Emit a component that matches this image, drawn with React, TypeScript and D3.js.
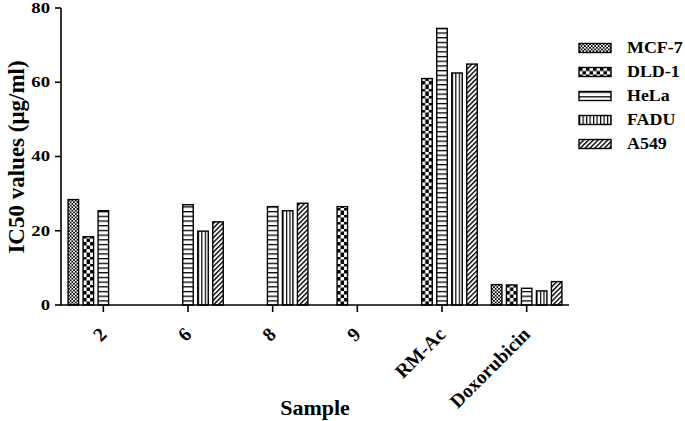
import React from "react";
import * as d3 from "d3";

const categories = ["2", "6", "8", "9", "RM-Ac", "Doxorubicin"];
const seriesNames = ["MCF-7", "DLD-1", "HeLa", "FADU", "A549"];
const mcf7 = [28.4, null, null, null, null, 5.5];
const dld1 = [18.4, null, null, 26.5, 61.0, 5.4];
const hela = [25.4, 27.0, 26.5, null, 74.5, 4.5];
const fadu = [null, 19.9, 25.4, null, 62.5, 3.8];
const a549 = [null, 22.4, 27.4, null, 64.9, 6.3];
const yTicks = [0, 20, 40, 60, 80];
const yTitle = "IC50 values (μg/ml)";
const xTitle = "Sample";

const seriesValues: (number | null)[][] = [mcf7, dld1, hela, fadu, a549];
const kinds = ["fine", "checker", "hlines", "vlines", "diag"];

const FONT = "'Liberation Serif', 'Times New Roman', serif";

function PatternDef({ id, kind, x, y }: { id: string; kind: string; x: number; y: number }) {
  if (kind === "fine") {
    return (
      <pattern id={id} patternUnits="userSpaceOnUse" x={x} y={y} width={3.4} height={3.4}>
        <rect width={3.4} height={3.4} fill="#fff" />
        <rect width={1.7} height={1.7} fill="#000" />
        <rect x={1.7} y={1.7} width={1.7} height={1.7} fill="#000" />
      </pattern>
    );
  }
  if (kind === "checker") {
    return (
      <pattern id={id} patternUnits="userSpaceOnUse" x={x} y={y} width={7} height={7}>
        <rect width={7} height={7} fill="#fff" />
        <rect width={3.5} height={3.5} fill="#000" />
        <rect x={3.5} y={3.5} width={3.5} height={3.5} fill="#000" />
      </pattern>
    );
  }
  if (kind === "hlines") {
    return (
      <pattern id={id} patternUnits="userSpaceOnUse" x={x} y={y} width={10} height={4.7}>
        <rect width={10} height={4.7} fill="#fff" />
        <rect y={0} width={10} height={1.3} fill="#000" />
      </pattern>
    );
  }
  if (kind === "vlines") {
    return (
      <pattern id={id} patternUnits="userSpaceOnUse" x={x} y={y} width={3.5} height={10}>
        <rect width={3.5} height={10} fill="#fff" />
        <rect x={0} width={1.2} height={10} fill="#000" />
      </pattern>
    );
  }
  return (
    <pattern id={id} patternUnits="userSpaceOnUse" x={x} y={y} width={3.4} height={3.4} patternTransform="rotate(45)">
      <rect width={3.4} height={3.4} fill="#fff" />
      <rect width={1.4} height={3.4} fill="#000" />
    </pattern>
  );
}

export default function App() {
  const W = 685;
  const H = 421;
  const x = d3.scaleBand<string>().domain(categories).range([61, 569]).padding(0);
  const inner = d3
    .scaleBand<string>()
    .domain(seriesNames)
    .range([-37.5, 37.5])
    .paddingInner(0.3)
    .paddingOuter(0.15);
  const y = d3.scaleLinear().domain([0, 80]).range([305, 8]);
  const bw = inner.bandwidth();

  const bars: { id: string; kind: string; x: number; y: number; h: number }[] = [];
  categories.forEach((c, ci) => {
    seriesNames.forEach((s, si) => {
      const v = seriesValues[si][ci];
      if (v == null) return;
      const bx = (x(c) as number) + x.bandwidth() / 2 + (inner(s) as number);
      bars.push({ id: `p-${ci}-${si}`, kind: kinds[si], x: bx, y: y(v), h: y(0) - y(v) });
    });
  });

  const legX = 579;
  const legY0 = 48;
  const legStep = 24;
  const swW = 32;
  const swH = 9;

  return (
    <svg
      width={W}
      height={H}
      style={{ position: "absolute", left: 0, top: 0, background: "#fff" }}
      fontFamily={FONT}
      fontWeight="bold"
    >
      <defs>
        {bars.map((b) => (
          <PatternDef key={b.id} id={b.id} kind={b.kind} x={b.x} y={y(0)} />
        ))}
        {seriesNames.map((s, i) => (
          <PatternDef
            key={"l" + i}
            id={"leg" + i}
            kind={kinds[i]}
            x={legX}
            y={legY0 + i * legStep - swH / 2}
          />
        ))}
      </defs>
      <rect width={W} height={H} fill="#fff" />
      {bars.map((b) => (
        <rect
          key={b.id}
          x={b.x}
          y={b.y}
          width={bw}
          height={b.h}
          fill={`url(#${b.id})`}
          stroke="#000"
          strokeWidth={1.4}
        />
      ))}
      {/* axes */}
      <line x1={61} x2={61} y1={y(80)} y2={y(0)} stroke="#000" strokeWidth={1.6} />
      <line x1={60.2} x2={569} y1={y(0)} y2={y(0)} stroke="#000" strokeWidth={1.6} />
      {yTicks.map((t) => (
        <g key={t}>
          <line x1={55} x2={61} y1={y(t)} y2={y(t)} stroke="#000" strokeWidth={1.6} />
          <text
            transform={`translate(50,${y(t)}) scale(1.25,1)`}
            textAnchor="end"
            dominantBaseline="central"
            fontSize={15}
          >
            {t}
          </text>
        </g>
      ))}
      {categories.map((c) => {
        const cx = (x(c) as number) + x.bandwidth() / 2;
        return (
          <g key={c}>
            <line x1={cx} x2={cx} y1={y(0)} y2={y(0) + 7} stroke="#000" strokeWidth={1.6} />
            <text
              transform={`translate(${cx},${331}) rotate(-45)`}
              textAnchor="end"
              dominantBaseline="central"
              fontSize={19.5}
            >
              {c}
            </text>
          </g>
        );
      })}
      <text
        transform={`translate(16,157) rotate(-90)`}
        textAnchor="middle"
        dominantBaseline="central"
        fontSize={23}
      >
        {yTitle}
      </text>
      <text x={315} y={415} textAnchor="middle" fontSize={22}>
        {xTitle}
      </text>
      {seriesNames.map((s, i) => (
        <g key={s}>
          <rect
            x={legX}
            y={legY0 + i * legStep - swH / 2}
            width={swW}
            height={swH}
            fill={`url(#leg${i})`}
            stroke="#000"
            strokeWidth={1.4}
          />
          <text
            transform={`translate(627,${legY0 + i * legStep}) scale(1.12,1)`}
            dominantBaseline="central"
            fontSize={16}
          >
            {s}
          </text>
        </g>
      ))}
    </svg>
  );
}
